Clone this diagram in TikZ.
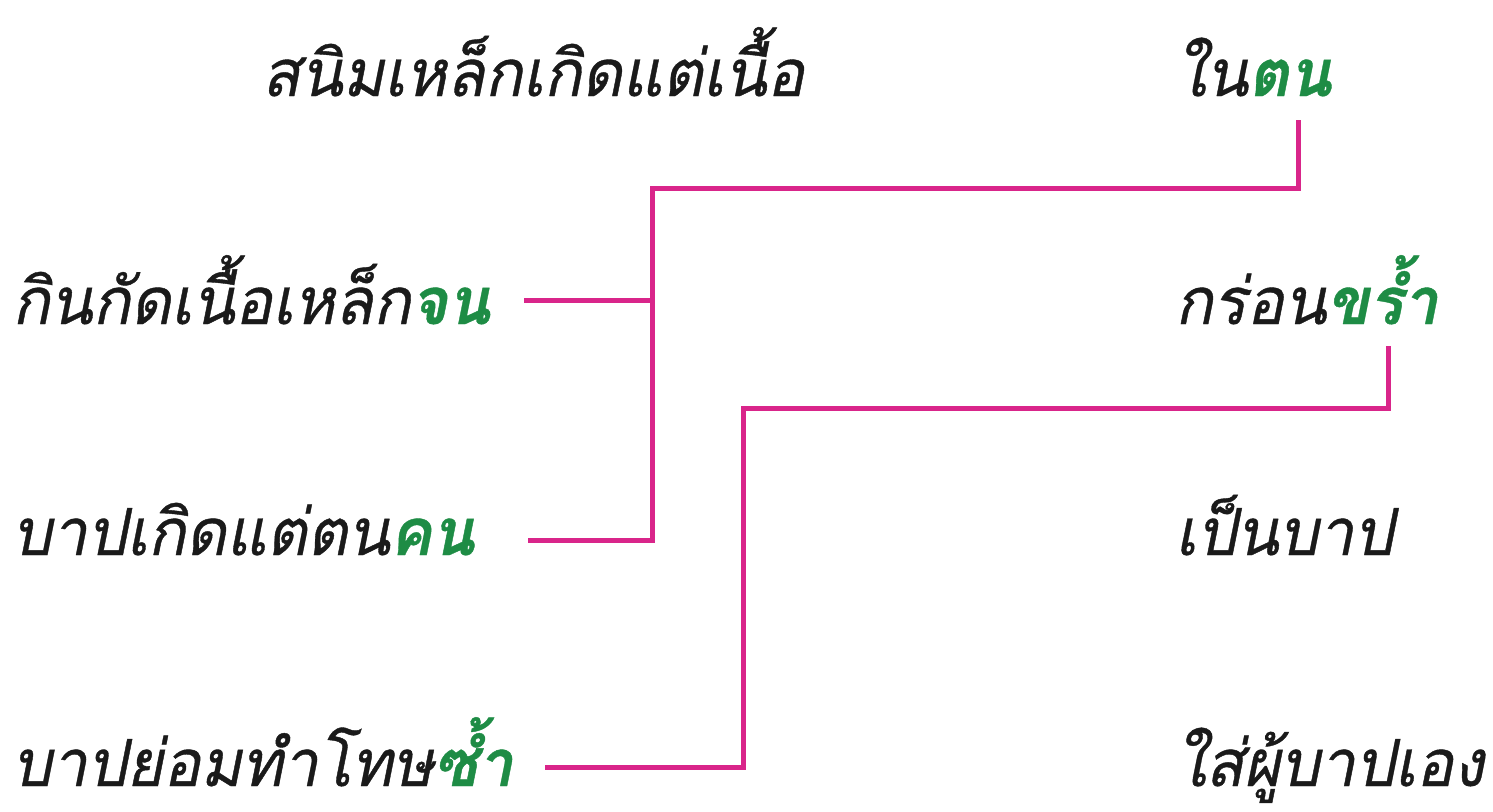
\documentclass[tikz,border=0pt]{standalone}
\usepackage{fontspec}
\newfontfamily\thai[Script=Thai,FakeSlant=0.2,FakeStretch=0.96,FakeBold=0.6]{Loma}
\definecolor{pinkline}{HTML}{D9258A}
\definecolor{greenw}{HTML}{1E8C45}
\definecolor{txt}{HTML}{1A1A1A}
\tikzset{
  verse/.style={anchor=base west, inner sep=0pt, font=\thai\fontsize{65}{68}\selectfont, text=txt},
  link/.style={draw=pinkline, line width=5pt, line cap=butt, line join=miter},
}
\newcommand{\gw}[1]{\textcolor{greenw}{\bfseries #1}}
\begin{document}
\begin{tikzpicture}[x=1pt,y=-1pt]
\useasboundingbox (0,0) rectangle (1493,811);
% left column
\node[verse] (l1) at (262,96) {สนิมเหล็กเกิดแต่เนื้อ};
\node[verse] (l2) at (12,324) {กินกัดเนื้อเหล็ก\gw{จน}};
\node[verse] (l3) at (12,555) {บาปเกิดแต่ตน\gw{คน}};
\node[verse] (l4) at (12,786) {บาปย่อมทำโทษ\gw{ซ้ำ}};
% right column
\node[verse] (r1) at (1175,96) {ใน\gw{ตน}};
\node[verse] (r2) at (1175,324) {กร่อน\gw{ขร้ำ}};
\node[verse] (r3) at (1175,555) {เป็นบาป};
\node[verse] (r4) at (1175,786) {ใส่ผู้บาปเอง};
% connector points
\coordinate (a0) at (1298,120);
\coordinate (a1) at (1298,188);
\coordinate (a2) at (652,188);
\coordinate (a3) at (652,540);
\coordinate (a4) at (528,540);
\coordinate (a5) at (652,300);
\coordinate (a6) at (524,300);
\coordinate (b0) at (1388,346);
\coordinate (b1) at (1388,408);
\coordinate (b2) at (743,408);
\coordinate (b3) at (743,767);
\coordinate (b4) at (545,767);
\draw[link] (a0) -- (a1) -- (a2) -- (a3) -- (a4);
\draw[link] (a5) -- (a6);
\draw[link] (b0) -- (b1) -- (b2) -- (b3) -- (b4);
\end{tikzpicture}
\end{document}
